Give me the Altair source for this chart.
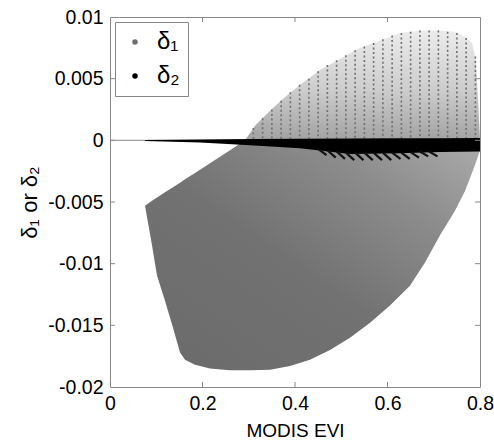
import altair as alt
import pandas as pd

# ---- axis ticks ----
X_TICKS = [0, 0.2, 0.4, 0.6, 0.8]
Y_TICKS = [0.01, 0.005, 0, -0.005, -0.01, -0.015, -0.02]

# ---- delta1 (grey cloud), upper part above zero: envelope ----
up_x = [0.292, 0.314, 0.346, 0.378, 0.411, 0.454, 0.497, 0.541, 0.584, 0.627, 0.670, 0.714, 0.746, 0.768, 0.783, 0.791, 0.796, 0.800]
up_top = [0.0, 0.0012, 0.0024, 0.0035, 0.0045, 0.0057, 0.0066, 0.0075, 0.0081, 0.0087, 0.0089, 0.0089, 0.0088, 0.0084, 0.0079, 0.0065, 0.0032, 0.0]

# dotted strands visible in the sparse upper part (x position, top value)
strand_x = [0.31, 0.33, 0.35, 0.37, 0.39, 0.41, 0.43, 0.45, 0.47, 0.49, 0.51, 0.53, 0.55,
            0.57, 0.59, 0.61, 0.63, 0.65, 0.67, 0.69, 0.71, 0.73, 0.75, 0.77, 0.79]
strand_top = [0.0010, 0.0018, 0.0025, 0.0032, 0.0039, 0.0045, 0.0050, 0.0056, 0.0061, 0.0065, 0.0069, 0.0073, 0.0076,
              0.0079, 0.0082, 0.0085, 0.0087, 0.0088, 0.0089, 0.0089, 0.0089, 0.0088, 0.0087, 0.0083, 0.0068]

# ---- delta1 lower part below zero: upper and lower envelope ----
lo_x = [0.0757, 0.0908, 0.1016, 0.1189, 0.1362, 0.1514, 0.1622, 0.1838, 0.2162, 0.2595, 0.292, 0.3027, 0.3459, 0.3892,
        0.4324, 0.4757, 0.5189, 0.5622, 0.6054, 0.6486, 0.6811, 0.7135, 0.7459, 0.7676, 0.7892, 0.800]
lo_top = [-0.0053, -0.0049, -0.00464, -0.0042, -0.0038, -0.00343, -0.00316, -0.00264, -0.00185, -0.0008, 0.0, 0.0, 0.0, 0.0,
          0.0, 0.0, 0.0, 0.0, 0.0, 0.0, 0.0, 0.0, 0.0, 0.0, 0.0, 0.0]
lo_bot = [-0.0053, -0.0085, -0.01095, -0.0130, -0.0152, -0.0172, -0.0178, -0.0182, -0.0185, -0.01865, -0.01865, -0.01865, -0.0186, -0.0183,
          -0.0178, -0.0170, -0.0160, -0.0148, -0.0134, -0.0118, -0.0099, -0.0077, -0.0057, -0.0041, -0.0020, -0.0008]

# ---- delta2 (black band) ----
d2_x = [0.076, 0.195, 0.303, 0.411, 0.519, 0.627, 0.714, 0.800]
d2_top = [0.00002, 0.00006, 0.0001, 0.00012, 0.00014, 0.00016, 0.00017, 0.00018]
d2_bot = [-0.00006, -0.00018, -0.0004, -0.00065, -0.0011, -0.00105, -0.00095, -0.0009]

# saw-teeth below the black band
teeth_x = [0.45, 0.47, 0.49, 0.51, 0.53, 0.55, 0.57, 0.59, 0.61, 0.63, 0.65, 0.67, 0.69]
teeth_y = [-0.0007, -0.0008, -0.0009, -0.001, -0.001, -0.001, -0.001, -0.001, -0.001, -0.001, -0.00095, -0.0009, -0.0009]
teeth_x2 = [0.468, 0.488, 0.508, 0.528, 0.548, 0.568, 0.588, 0.608, 0.628, 0.648, 0.668, 0.688, 0.708]
teeth_y2 = [-0.0012, -0.0014, -0.0015, -0.0016, -0.0016, -0.0016, -0.0016, -0.0016, -0.0015, -0.0015, -0.0014, -0.0013, -0.0013]

series = ["δ₁", "δ₂"]
series_colors = ["#6f6f6f", "#000000"]

W, H = 370, 370
FONT = "Liberation Sans"
LABEL_EXPR = "replace(datum.label, '\u2212', '-')"

xs = alt.Scale(domain=[0, 0.8], nice=False, zero=False)
ys = alt.Scale(domain=[-0.02, 0.01], nice=False, zero=False)

up_df = pd.DataFrame({"x": up_x, "y": up_top, "y2": [0.0] * len(up_x)})
st_df = pd.DataFrame({"x": strand_x, "y": strand_top, "y2": [0.0] * len(strand_x)})
lo_df = pd.DataFrame({"x": lo_x, "y": lo_top, "y2": lo_bot})
d2_df = pd.DataFrame({"x": d2_x, "y": d2_top, "y2": d2_bot})
teeth_df = pd.DataFrame({"x": teeth_x, "y": teeth_y, "x2": teeth_x2, "y2": teeth_y2})
leg_df = pd.DataFrame({"s": series, "x": [0.5, 0.5], "y": [0.0, 0.0]})
xt_df = pd.DataFrame({"v": X_TICKS[1:-1]})
yt_df = pd.DataFrame({"v": Y_TICKS[1:-1]})

x_axis = alt.Axis(values=X_TICKS, title="MODIS EVI", format="~g", labelExpr=LABEL_EXPR, titlePadding=9)
y_axis = alt.Axis(values=Y_TICKS, title="δ₁ or δ₂", format="~g", labelExpr=LABEL_EXPR, titleFontSize=22, titlePadding=6)

lower = alt.Chart(lo_df).mark_area(
    color=alt.LinearGradient(gradient="linear",
                             stops=[alt.GradientStop(color="#6a6a6a", offset=0),
                                    alt.GradientStop(color="#727272", offset=0.45),
                                    alt.GradientStop(color="#8c8c8c", offset=0.75),
                                    alt.GradientStop(color="#acacac", offset=1)],
                             x1=0, y1=1, x2=1, y2=0)
).encode(x=alt.X("x:Q", scale=xs, axis=x_axis), y=alt.Y("y:Q", scale=ys, axis=y_axis), y2="y2:Q")

upper = alt.Chart(up_df).mark_area(
    color=alt.LinearGradient(gradient="linear",
                             stops=[alt.GradientStop(color="#a2a2a2", offset=0),
                                    alt.GradientStop(color="#cccccc", offset=0.45),
                                    alt.GradientStop(color="#ececec", offset=1)],
                             x1=0, y1=1, x2=0, y2=0)
).encode(x=alt.X("x:Q", scale=xs), y=alt.Y("y:Q", scale=ys), y2="y2:Q")

strands = alt.Chart(st_df).mark_rule(color="#6f6f6f", strokeWidth=1.6, strokeDash=[2, 2.5]).encode(
    x=alt.X("x:Q", scale=xs), y=alt.Y("y:Q", scale=ys), y2="y2:Q")

band = alt.Chart(d2_df).mark_area(color="#000").encode(
    x=alt.X("x:Q", scale=xs), y=alt.Y("y:Q", scale=ys), y2="y2:Q")

teeth = alt.Chart(teeth_df).mark_rule(color="#111", strokeWidth=2.2).encode(
    x=alt.X("x:Q", scale=xs), y=alt.Y("y:Q", scale=ys), x2="x2:Q", y2="y2:Q")

zero = alt.Chart(pd.DataFrame({"v": [0.0]})).mark_rule(color="#8a8a8a", strokeWidth=1).encode(
    y=alt.Y("v:Q", scale=ys), x=alt.value(0), x2=alt.value(W))

legend_pts = alt.Chart(leg_df).mark_circle(opacity=0, size=1).encode(
    x=alt.X("x:Q", scale=xs), y=alt.Y("y:Q", scale=ys),
    color=alt.Color("s:N", scale=alt.Scale(domain=series, range=series_colors),
                    legend=alt.Legend(title=None, orient="none", legendX=5, legendY=5,
                                      symbolType="circle", symbolSize=30, symbolOpacity=1,
                                      symbolStrokeWidth=0,
                                      labelFontSize=24, labelFont=FONT, labelColor="#000",
                                      labelOffset=10, rowPadding=10,
                                      strokeColor="#888", padding=8, fillColor="#fff")))

tick_style = dict(color="#888", strokeWidth=1)
tb = alt.Chart(xt_df).mark_rule(**tick_style).encode(x=alt.X("v:Q", scale=xs), y=alt.value(H), y2=alt.value(H - 5))
tt = alt.Chart(xt_df).mark_rule(**tick_style).encode(x=alt.X("v:Q", scale=xs), y=alt.value(0), y2=alt.value(5))
tl = alt.Chart(yt_df).mark_rule(**tick_style).encode(y=alt.Y("v:Q", scale=ys), x=alt.value(0), x2=alt.value(5))
tr = alt.Chart(yt_df).mark_rule(**tick_style).encode(y=alt.Y("v:Q", scale=ys), x=alt.value(W), x2=alt.value(W - 5))

chart = alt.layer(lower, upper, strands, zero, band, teeth, legend_pts, tb, tt, tl, tr).properties(
    width=W, height=H,
    background="white",
    autosize=alt.AutoSizeParams(type="none"),
    padding={"left": 110, "top": 17, "right": 14, "bottom": 58},
).configure_view(stroke="#888", strokeWidth=1).configure_axis(
    grid=False, domain=False, ticks=False, labelFlush=False,
    labelFontSize=19.5, labelFont=FONT, labelColor="#000", labelPadding=7,
    titleFontSize=19, titleFont=FONT, titleFontWeight="normal", titleColor="#000",
)

chart.save("out.html", embed_options={"renderer": "svg", "actions": False})
